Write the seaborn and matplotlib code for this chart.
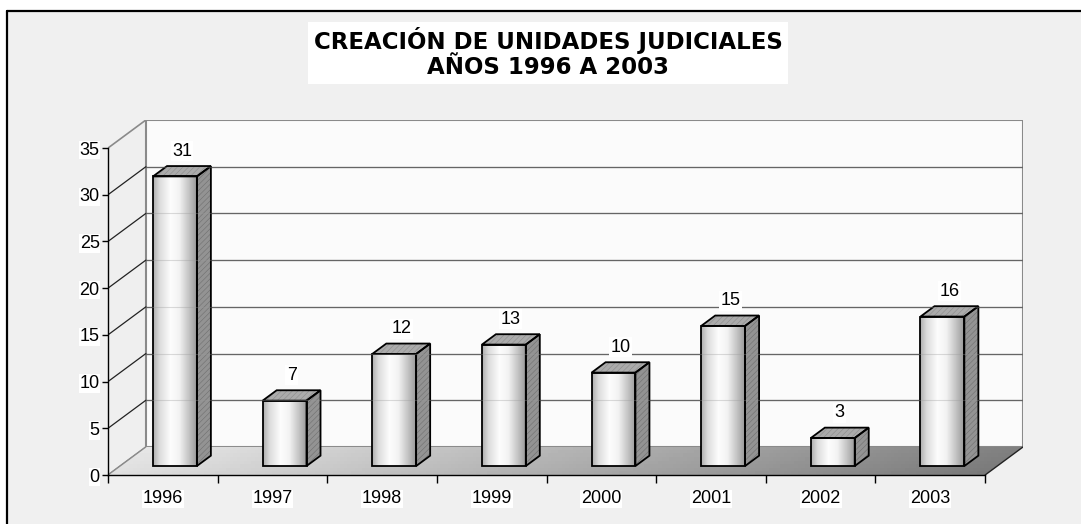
import numpy as np
import matplotlib
matplotlib.use("Agg")
import matplotlib.pyplot as plt
from matplotlib.patches import Polygon, Rectangle
from matplotlib.lines import Line2D
import seaborn as sns

# data
years = ["1996", "1997", "1998", "1999", "2000", "2001", "2002", "2003"]
units = [31, 7, 12, 13, 10, 15, 3, 16]
y_ticks = [0, 5, 10, 15, 20, 25, 30, 35]
title_text = "CREACIÓN DE UNIDADES JUDICIALES\nAÑOS 1996 A 2003"

sns.set_style("white")
plt.rcParams["font.family"] = ["Liberation Sans", "DejaVu Sans"]
plt.rcParams["hatch.linewidth"] = 0.4
plt.rcParams["text.color"] = "black"
plt.rcParams["xtick.color"] = "black"
plt.rcParams["ytick.color"] = "black"

W, H = 1081, 524
fig = plt.figure(figsize=(W / 100, H / 100), dpi=100, facecolor="white")

# outer frame (only top and left visible in the crop)
fig.add_artist(Rectangle((7 / W, 0), 1, 1 - 11 / H, transform=fig.transFigure,
                         facecolor="#f0f0f0", edgecolor="none", zorder=-10))
fig.add_artist(Line2D([7 / W, 1], [1 - 11 / H, 1 - 11 / H], transform=fig.transFigure,
                      color="black", lw=1.6))
fig.add_artist(Line2D([7 / W, 7 / W], [0, 1 - 11 / H], transform=fig.transFigure,
                      color="black", lw=1.6))

# depth of the fake 3D box (in data units)
D = 38 / 110.0      # categories
DY = 3.0            # value units
ymax = max(y_ticks)
top = ymax + DY

ax = fig.add_axes([108 / W, (H - 475) / H, 915 / W, 355 / H])
ax.set_facecolor("none")

sns.barplot(x=years, y=units, order=years, width=0.4, color="white",
            edgecolor="black", linewidth=1.3, errorbar=None, ax=ax)
bars = list(ax.patches)

# walls and floor
side = Polygon([(-0.5, 0), (-0.5 + D, DY), (-0.5 + D, top), (-0.5, ymax)],
               closed=True, facecolor="#efefef", edgecolor="#8a8a8a", lw=1.2, zorder=0)
ax.add_patch(side)
back = Rectangle((-0.5 + D, DY), 8, ymax, facecolor="#fbfbfb",
                 edgecolor="#8a8a8a", lw=1.5, zorder=0)
ax.add_patch(back)
floor = Polygon([(-0.5, 0), (7.5, 0), (7.5 + D, DY), (-0.5 + D, DY)],
                closed=True, facecolor="none", edgecolor="none", zorder=1)
ax.add_patch(floor)
fgrad = np.linspace(0.92, 0.5, 256)[None, :] * np.ones((8, 1))
fgrad = fgrad - np.linspace(0.04, 0, 8)[:, None]
im = ax.imshow(fgrad, extent=[-0.5, 7.5 + D, 0, DY], origin="lower", aspect="auto",
               cmap="gray", vmin=0, vmax=1, zorder=1)
im.set_clip_path(floor)
ax.plot([7.5, 7.5 + D], [0, DY], color="#222222", lw=1.0, zorder=1.5)

# gridlines on back wall and side wall
for v in y_ticks[1:-1]:
    ax.plot([-0.5 + D, 7.5 + D], [v + DY, v + DY], color="#4a4a4a", lw=0.9, zorder=2)
for v in y_ticks[:-1]:
    ax.plot([-0.5, -0.5 + D], [v, v + DY], color="#222222" if v else "#8a8a8a",
            lw=0.9, zorder=2)

# 3D bars
f0, bd = 0.32, 0.37
front_grad = np.interp(np.linspace(0, 1, 200), [0, 0.15, 0.4, 0.6, 0.85, 1],
                       [0.68, 0.86, 0.99, 0.95, 0.74, 0.6])[None, :]
for p, val in zip(bars, units):
    x0 = p.get_x() + f0 * D
    w = p.get_width()
    y0 = f0 * DY
    p.set_x(x0)
    p.set_y(y0)
    p.set_zorder(6)
    p.set_facecolor("none")
    x1, y1 = x0 + w, y0 + p.get_height()
    g = ax.imshow(front_grad, extent=[x0, x1, y0, y1], aspect="auto",
                  cmap="gray", vmin=0, vmax=1, zorder=5)
    g.set_clip_path(p)
    ox, oy = bd * D, bd * DY
    sideb = Polygon([(x1, y0), (x1 + ox, y0 + oy), (x1 + ox, y1 + oy), (x1, y1)],
                    closed=True, facecolor="#939393", edgecolor="#6f6f6f",
                    hatch="//////", lw=0, zorder=5)
    ax.add_patch(sideb)
    ax.add_patch(Polygon(sideb.get_xy(), closed=True, facecolor="none",
                         edgecolor="black", lw=1.3, zorder=6))
    topb = Polygon([(x0, y1), (x1, y1), (x1 + ox, y1 + oy), (x0 + ox, y1 + oy)],
                   closed=True, facecolor="#ababab", edgecolor="#8c8c8c",
                   hatch="//////", lw=0, zorder=5)
    ax.add_patch(topb)
    ax.add_patch(Polygon(topb.get_xy(), closed=True, facecolor="none",
                         edgecolor="black", lw=1.3, zorder=6))
    ax.text(x0 + w / 2 + ox / 2, y1 + 2.7, str(val), ha="center", va="center",
            fontsize=13, color="black", zorder=7,
            bbox=dict(facecolor="white", edgecolor="none", pad=1))

# faint gridlines through the bars
for v in y_ticks[1:-1]:
    ax.plot([-0.5 + D, 7.5 + D], [v + DY, v + DY], color="#9a9a9a", lw=0.8,
            alpha=0.35, zorder=6.5)

ax.set_xlim(-0.5, 7.5 + D)
ax.set_ylim(0, top)

for s in ["top", "right"]:
    ax.spines[s].set_visible(False)
ax.spines["left"].set_bounds(0, ymax)
ax.spines["bottom"].set_bounds(-0.5, 7.5)
for s in ["left", "bottom"]:
    ax.spines[s].set_color("black")
    ax.spines[s].set_linewidth(1.0)
    ax.spines[s].set_zorder(3)

ax.set_yticks(y_ticks)
ax.set_yticklabels([str(v) for v in y_ticks], fontsize=13)
ax.set_xticks(np.arange(-0.5, 8, 1))
ax.set_xticklabels([])
ax.set_xticks(range(len(years)), minor=True)
ax.set_xticklabels(years, minor=True, fontsize=13)
ax.tick_params(axis="y", which="major", direction="out", length=4, width=1,
               color="black", labelcolor="black", pad=2, left=True)
ax.tick_params(axis="x", which="major", direction="out", length=6, width=1,
               color="black", bottom=True)
ax.tick_params(axis="x", which="minor", length=0, pad=11, labelcolor="black")
ax.set_xlabel("")
ax.set_ylabel("")
for lbl in ax.get_yticklabels() + ax.get_xticklabels(minor=True):
    lbl.set_bbox(dict(facecolor="white", edgecolor="none", pad=0.5))

fig.text(548 / W, 1 - 53 / H, title_text, ha="center", va="center",
         fontsize=16.5, fontweight="bold", family="DejaVu Sans", color="black",
         linespacing=1.1, bbox=dict(facecolor="white", edgecolor="none", pad=4))

fig.savefig("out.png", dpi=100, facecolor="white")
